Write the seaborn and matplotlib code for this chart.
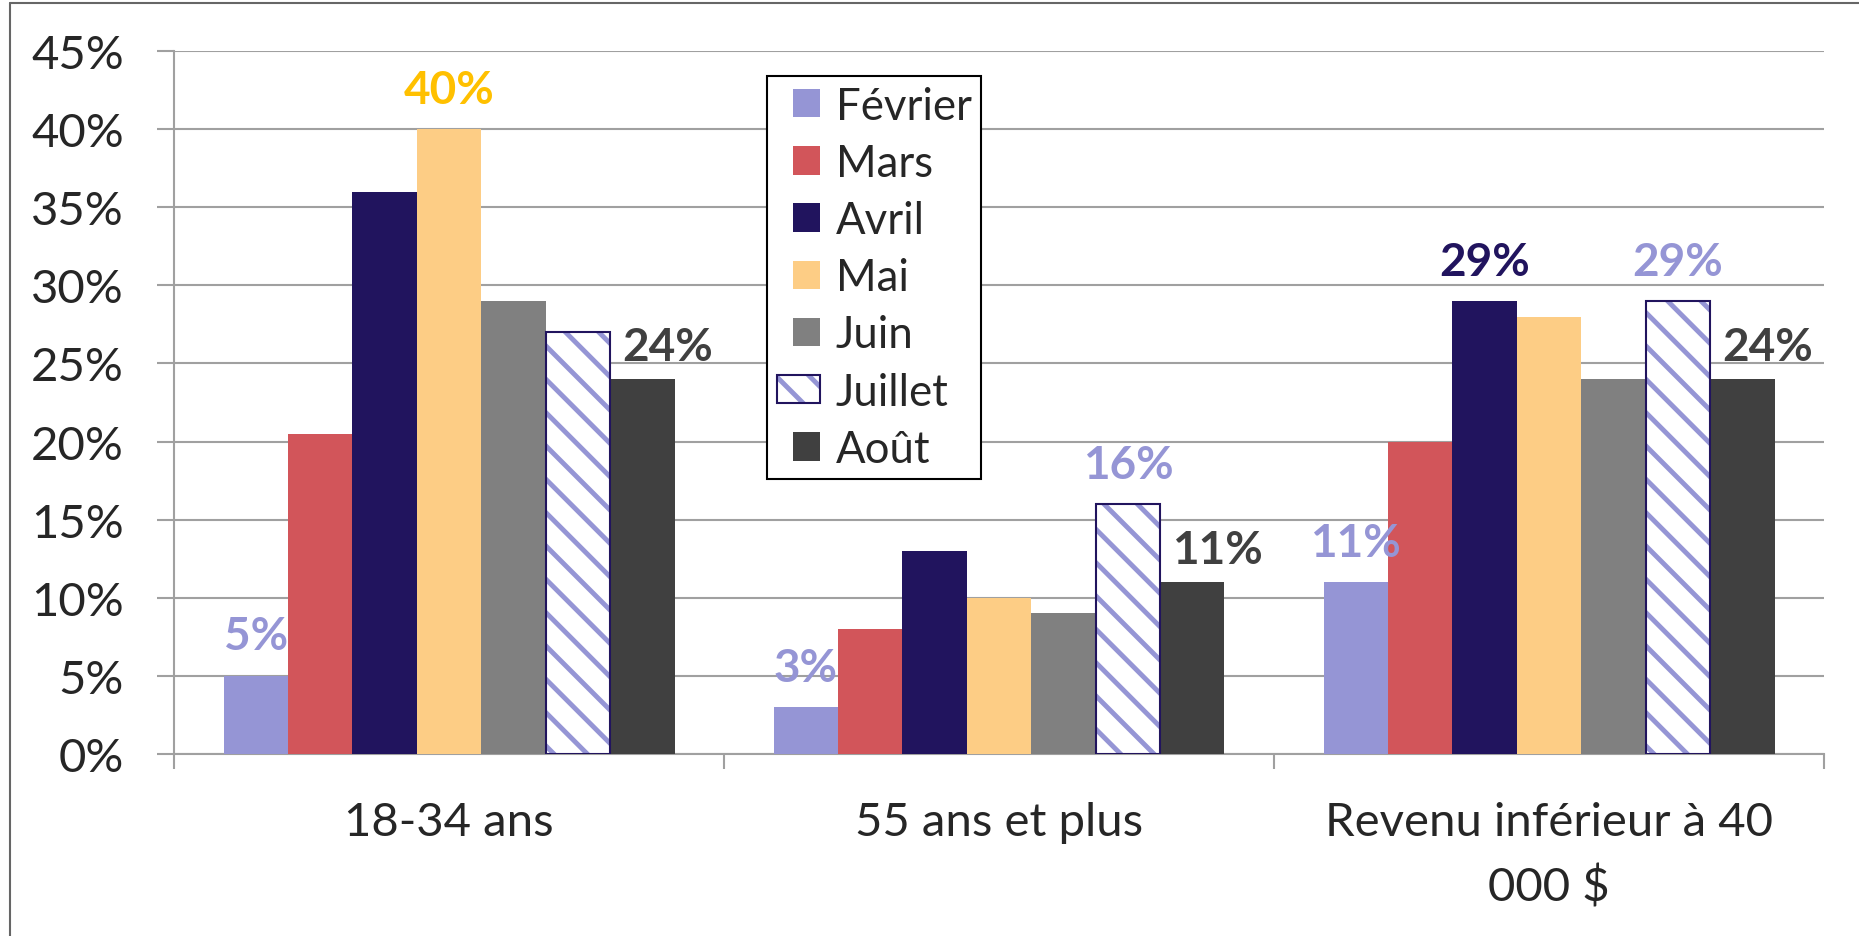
import numpy as np
import pandas as pd
import matplotlib
matplotlib.use('Agg')
import matplotlib.pyplot as plt
import seaborn as sns
from matplotlib.container import BarContainer
from matplotlib.legend_handler import HandlerPatch, update_from_first_child
from matplotlib.lines import Line2D
from matplotlib.patches import Rectangle
from matplotlib.ticker import FixedLocator, FuncFormatter

# ── Data ──────────────────────────────────────
categories = ['18-34 ans', '55 ans et plus', 'Revenu inférieur à 40\n000 $']
months = ['Février', 'Mars', 'Avril', 'Mai', 'Juin', 'Juillet', 'Août']

fevrier = [5, 3, 11]
mars    = [20.5, 8, 20]
avril   = [36, 13, 29]
mai     = [40, 10, 28]
juin    = [29, 9, 24]
juillet = [27, 16, 29]
aout    = [24, 11, 24]

# bars that carry a value label: (month, category index)
labelled = [('Février', 0), ('Mai', 0), ('Août', 0),
            ('Février', 1), ('Juillet', 1), ('Août', 1),
            ('Février', 2), ('Avril', 2), ('Juillet', 2), ('Août', 2)]

COLORS = {
    'Février': '#9595D5',
    'Mars':    '#D2555A',
    'Avril':   '#21145E',
    'Mai':     '#FDCD85',
    'Juin':    '#808080',
    'Juillet': '#FFFFFF',
    'Août':    '#404040',
}
LABEL_COLORS = {
    'Février': '#9595D5',
    'Mai':     '#FFC000',
    'Avril':   '#21145E',
    'Juillet': '#9595D5',
    'Août':    '#404040',
}
NAVY   = '#21145E'
STRIPE = '#9595D5'
GRID   = '#A0A0A0'
FONT   = ['Lato', 'DejaVu Sans']

series = [fevrier, mars, avril, mai, juin, juillet, aout]
df = pd.DataFrame([
    {'groupe': cat, 'mois': m, 'valeur': vals[i]}
    for m, vals in zip(months, series)
    for i, cat in enumerate(categories)
])

sns.set_style('white')
plt.rcParams['font.family'] = FONT
plt.rcParams['hatch.linewidth'] = 3.5

fig = plt.figure(figsize=(18.59, 9.37), dpi=100)
ax = fig.add_axes([174 / 1859, 1 - 755 / 937, 1650 / 1859, 703 / 937])

sns.barplot(data=df, x='groupe', y='valeur', hue='mois',
            order=categories, hue_order=months, palette=COLORS,
            saturation=1, width=0.82, gap=0, linewidth=0,
            errorbar=None, legend=False, ax=ax, zorder=3)

# ─ Juillet: white bars, light stripes, navy outline ─
outlines = []
for p in ax.containers[months.index('Juillet')]:
    p.set_facecolor('white')
    p.set_hatch('\\')
    p.set_edgecolor(STRIPE)     # hatch takes the edge colour
    p.set_linewidth(0)
    o = Rectangle((p.get_x(), p.get_y()), p.get_width(), p.get_height(),
                  fill=False, edgecolor=NAVY, linewidth=1.5, zorder=4)
    ax.add_patch(o)
    outlines.append(o)

# ─ Value labels ─
for m, ci in labelled:
    p = ax.containers[months.index(m)][ci]
    x = p.get_x() + p.get_width() / 2
    y = p.get_height()
    off = (18, 13.5) if m == 'Août' else (0, 19)
    ax.annotate(f'{y:.0f}%', (x, y), xytext=off, textcoords='offset points',
                ha='center', va='baseline', fontsize=33, fontweight='bold',
                color=LABEL_COLORS[m], zorder=5)

# ─ Axes styling ─
ax.set_xlim(-0.5, 2.5)
ax.set_ylim(0, 45)
ax.set_yticks(np.arange(0, 46, 5))
ax.yaxis.set_major_formatter(FuncFormatter(lambda v, _: f'{v:.0f}%'))
ax.grid(axis='y', color=GRID, linewidth=1.5, zorder=0)
ax.set_axisbelow(True)
ax.set_xlabel('')
ax.set_ylabel('')

for side in ['top', 'right']:
    ax.spines[side].set_visible(False)
for side in ['left', 'bottom']:
    ax.spines[side].set_color(GRID)
    ax.spines[side].set_linewidth(1.5)

ax.tick_params(axis='y', which='major', direction='out', length=12,
               width=1.5, color=GRID, labelsize=34, pad=24, left=True)
ax.tick_params(axis='x', which='major', length=0, labelsize=34, pad=34)
ax.xaxis.set_minor_locator(FixedLocator([-0.5, 0.5, 1.5, 2.5]))
ax.tick_params(axis='x', which='minor', direction='out', length=11,
               width=1.5, color=GRID, bottom=True)
for lbl in ax.get_xticklabels():
    lbl.set_linespacing(1.6)

# ─ Legend ─
handles = list(ax.containers)
j = months.index('Juillet')
handles[j] = (ax.containers[j][0], outlines[0])
hmap = {
    BarContainer: HandlerPatch(xpad=0.38, update_func=update_from_first_child),
    Rectangle: HandlerPatch(xpad=0.38),
}
leg = ax.legend(handles=handles, labels=months, handler_map=hmap,
                loc='upper left', bbox_to_anchor=(767 / 1859, 1 - 77 / 937),
                bbox_transform=fig.transFigure, fontsize=31.5,
                frameon=True, fancybox=False, framealpha=1,
                edgecolor='black', handlelength=1.0, handleheight=0.62,
                labelspacing=0.37, borderpad=0.22, handletextpad=0.35,
                borderaxespad=0)
leg.get_frame().set_linewidth(1.5)
leg.set_zorder(10)

# ─ Chart-area border (top and left edges) ─
fig.add_artist(Line2D([10 / 1859, 10 / 1859], [0, 1 - 4 / 937],
                      color='#666666', linewidth=1.5))
fig.add_artist(Line2D([10 / 1859, 1], [1 - 4 / 937, 1 - 4 / 937],
                      color='#666666', linewidth=1.5))

fig.savefig('out.png', dpi=100)
plt.close(fig)
